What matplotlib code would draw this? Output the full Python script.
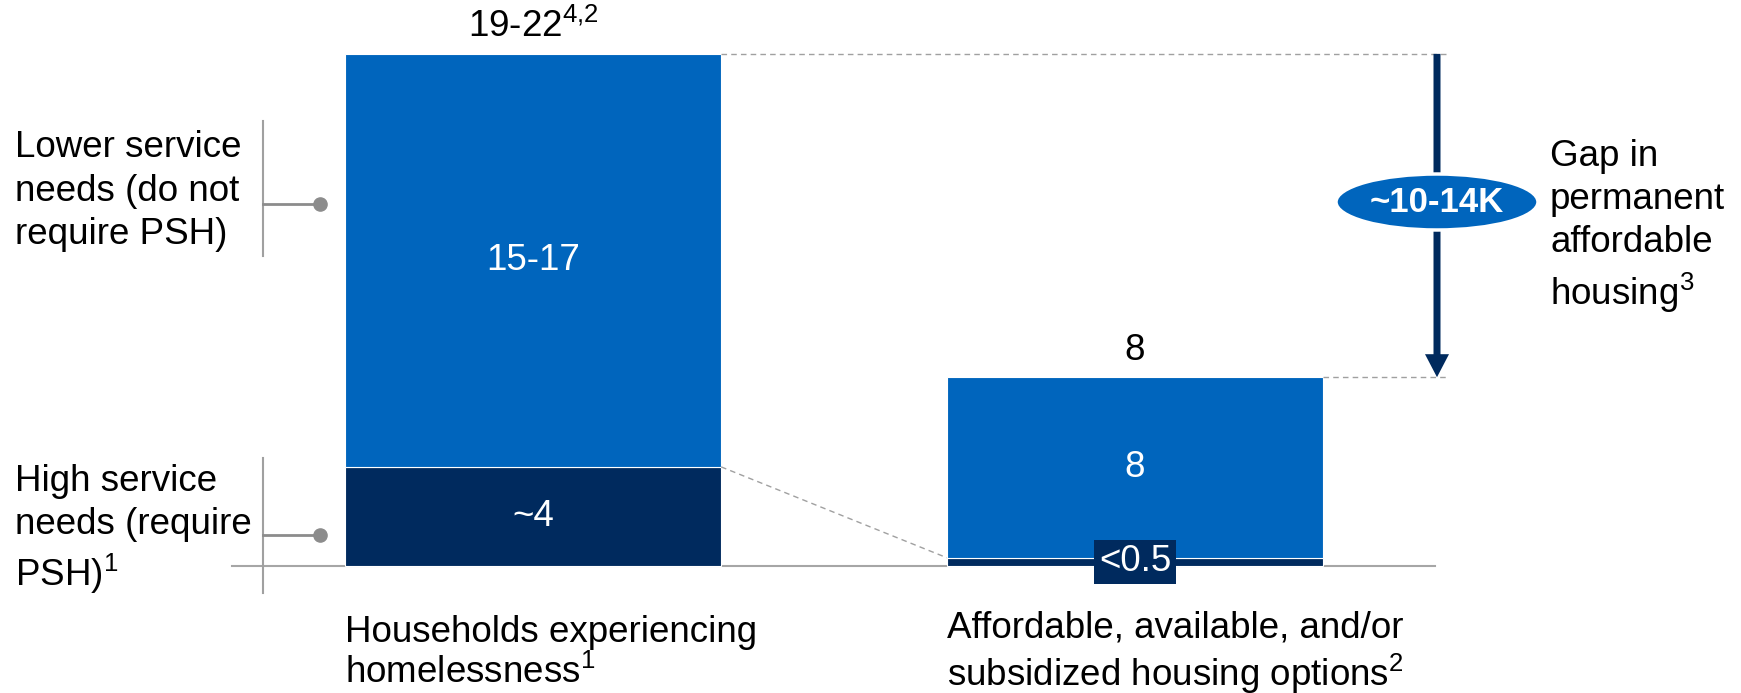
import numpy as np
import matplotlib
matplotlib.use('Agg')
import matplotlib.pyplot as plt
from matplotlib.patches import Ellipse, FancyArrow

plt.rcParams['font.family'] = ['Liberation Sans', 'DejaVu Sans']
plt.rcParams['mathtext.fontset'] = 'custom'
plt.rcParams['mathtext.rm'] = 'Liberation Sans'
plt.rcParams['mathtext.it'] = 'Liberation Sans:italic'
plt.rcParams['mathtext.bf'] = 'Liberation Sans:bold'

# Data (thousands of households)
categories = ['Households experiencing\nhomelessness$^{\\mathrm{1}}$',
              'Affordable, available, and/or\nsubsidized housing options$^{\\mathrm{2}}$']
high_need = [4.2, 0.35]     # require PSH
lower_need = [17.5, 7.65]   # do not require PSH
inner_high = ['~4', '<0.5']
inner_lower = ['15-17', '8']
top_labels = ['19-22$^{\\mathrm{4{,}2}}$', '8']
gap_label = '~10-14K'

LIGHT = '#0065BD'
DARK = '#002A5E'
GREY = '#8C8C8C'
FS = 26.5
LS = 1.3

W, H = 1741, 693
fig = plt.figure(figsize=(W / 100, H / 100), dpi=100)
ax = fig.add_axes([0, 0, 1, 1])

# layout: category 0 centred at px 533, 602 px per category; baseline at px 566, 23.6 px per unit
XPX, X0 = 602.0, 533.0
YPX, Y0 = 23.6, 566.0
ax.set_xlim(-X0 / XPX, (W - X0) / XPX)
ax.set_ylim((Y0 - H) / YPX, Y0 / YPX)
ax.axis('off')

def px(x, y):
    return (x - X0) / XPX, (Y0 - y) / YPX

x = np.arange(len(categories))
bw = 0.625
totals = np.array(high_need) + np.array(lower_need)

ax.bar(x, high_need, bw, color=DARK, edgecolor='white', linewidth=0.8, zorder=2)
ax.bar(x, lower_need, bw, bottom=high_need, color=LIGHT, edgecolor='white', linewidth=0.8, zorder=2)

# baseline
ax.plot([px(232, 0)[0], px(1435, 0)[0]], [0, 0], color='#A6A6A6', lw=1.5, zorder=1)

# value labels
ax.text(x[0], high_need[0] / 2, inner_high[0], color='white', fontsize=FS, ha='center', va='center', zorder=3)
ax.text(x[1], high_need[1] / 2, inner_high[1], color='white', fontsize=FS, ha='center', va='center', zorder=4,
        bbox=dict(boxstyle='square,pad=0.12', fc=DARK, ec='none'))
for i in range(2):
    ax.text(x[i], high_need[i] + lower_need[i] / 2, inner_lower[i], color='white', fontsize=FS,
            ha='center', va='center', zorder=3)
ax.text(x[0], totals[0] + 1.15, top_labels[0], fontsize=FS, ha='center', va='center')
ax.text(x[1], totals[1] + 1.15, top_labels[1], fontsize=FS, ha='center', va='center')

# category labels
for i, lab in enumerate(categories):
    ax.text(x[i] - bw / 2, px(0, 653)[1], lab, fontsize=FS, ha='left', va='center', linespacing=1.18)

# dashed connectors
ax.plot([x[0] + bw / 2, px(1448, 0)[0]], [totals[0], totals[0]], color='#A0A0A0', lw=1, ls=(0, (4, 3)))
ax.plot([x[1] + bw / 2, px(1448, 0)[0]], [totals[1], totals[1]], color='#A0A0A0', lw=1, ls=(0, (4, 3)))
ax.plot([x[0] + bw / 2, x[1] - bw / 2], [high_need[0], high_need[1]], color='#A0A0A0', lw=1, ls=(0, (4, 3)))

# gap arrow
ax_x = px(1437, 0)[0]
ax.add_patch(FancyArrow(ax_x, totals[0], 0, totals[1] - totals[0], width=7 / XPX,
                        head_width=24 / XPX, head_length=23 / YPX, length_includes_head=True,
                        color=DARK, lw=0, zorder=3))
ey = px(0, 202)[1]
ax.add_patch(Ellipse((ax_x, ey), 202 / XPX, 56 / YPX, fc=LIGHT, ec='white', lw=2.5, zorder=4))
ax.text(ax_x, ey, gap_label, color='white', fontsize=25, fontweight='bold', ha='center', va='center', zorder=5)
ax.text(px(1550, 0)[0], px(0, 227)[1], 'Gap in\npermanent\naffordable\nhousing$^{\\mathrm{3}}$',
        fontsize=FS, ha='left', va='center', linespacing=LS)

# left brackets
for (ytop, ybot, ydot, lab, yl) in [(121, 256, 204, 'Lower service\nneeds (do not\nrequire PSH)', 191),
                                    (458, 593, 535, 'High service\nneeds (require\nPSH)$^{\\mathrm{1}}$', 530)]:
    vx = px(263, 0)[0]
    ax.plot([vx, vx], [px(0, ytop)[1], px(0, ybot)[1]], color='#A0A0A0', lw=1.5)
    ax.plot([vx, px(320, 0)[0]], [px(0, ydot)[1]] * 2, color=GREY, lw=2)
    ax.plot([px(320, 0)[0]], [px(0, ydot)[1]], 'o', color=GREY, ms=9.5)
    ax.text(px(15, 0)[0], px(0, yl)[1], lab, fontsize=FS, ha='left', va='center', linespacing=LS)

fig.savefig('out.png', dpi=100)
